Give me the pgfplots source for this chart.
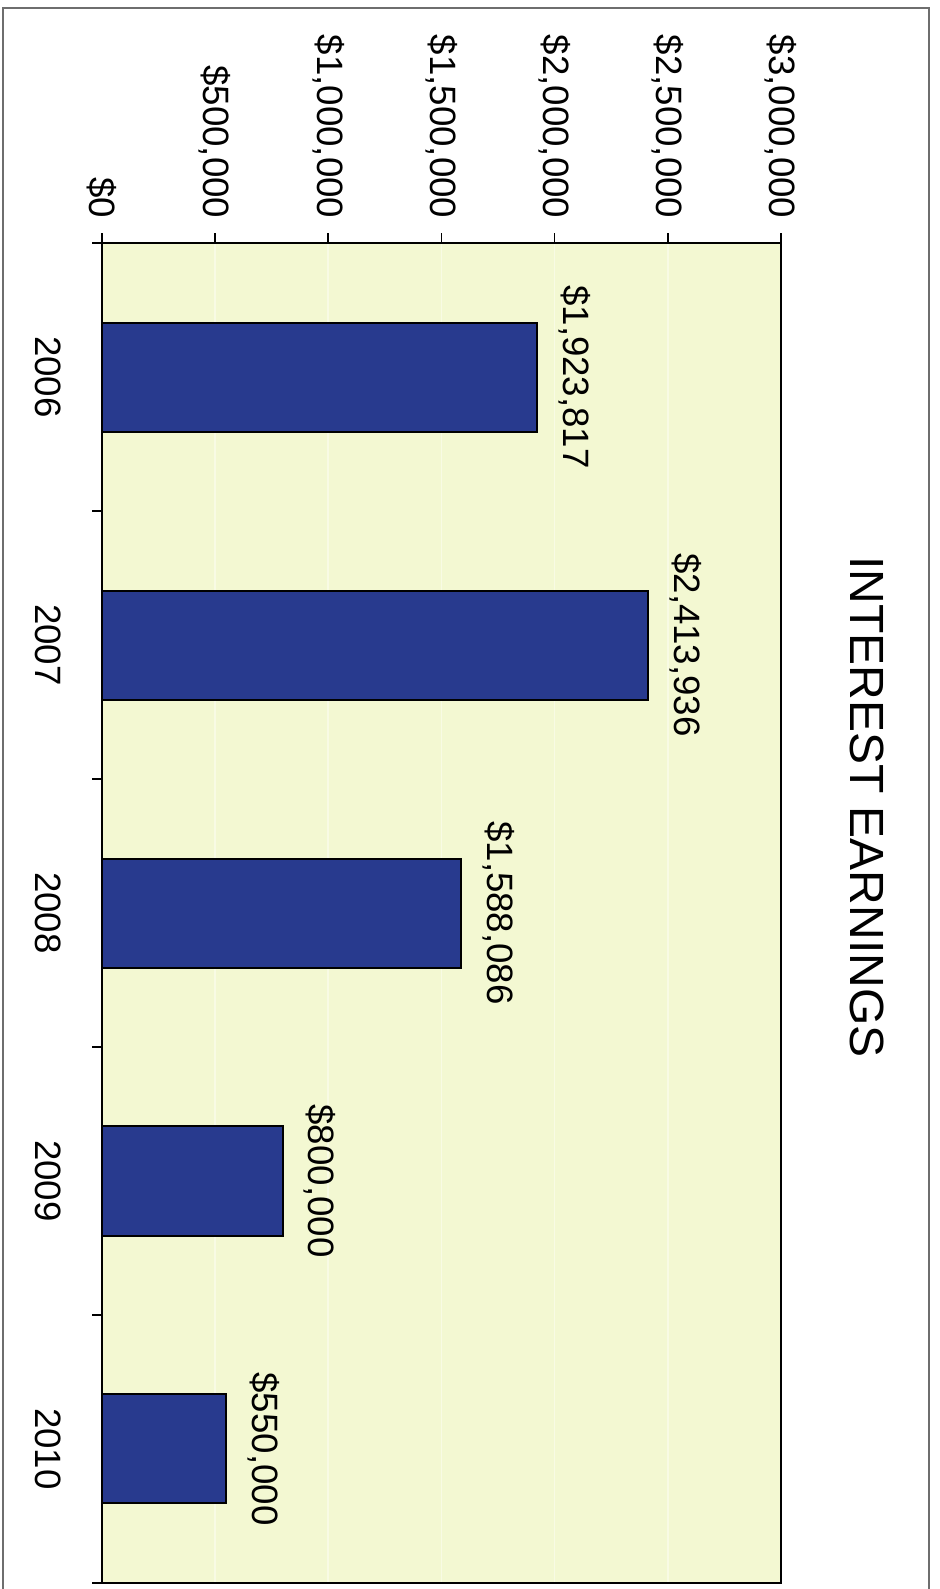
\documentclass[border=0pt]{standalone}
\usepackage{fontspec}
\setmainfont{Liberation Sans}
\usepackage{pgfplots}
\usepackage{pgfplotstable}
\pgfplotsset{compat=1.18}
\definecolor{bgyel}{RGB}{243,248,210}
\definecolor{barblue}{RGB}{40,58,142}
\definecolor{framegray}{RGB}{110,110,110}
\pgfplotstableread{
y val lab
4 1923817 1,923,817
3 2413936 2,413,936
2 1588086 1,588,086
1 800000 800,000
0 550000 550,000
}\data
\begin{document}
\begin{tikzpicture}
\useasboundingbox (0,0) rectangle (281.7pt,-476.7pt);
\draw[framegray, line width=0.5pt] (0.9pt,-476.7pt) -- (0.9pt,-2.4pt) -- (278.7pt,-2.4pt) -- (278.7pt,-476.7pt);
\begin{axis}[
  at={(30.6pt,-72.9pt)}, anchor=north west,
  scale only axis, width=203.7pt, height=402pt,
  xmin=0, xmax=3000000, ymin=-0.5, ymax=4.5,
  scaled x ticks=false,
  axis background/.style={fill=bgyel},
  axis line style={black, line width=0.5pt},
  tick align=outside,
  major tick length=3pt,
  tick style={black, line width=0.5pt},
  xtick={0,500000,1000000,1500000,2000000,2500000,3000000},
  xticklabels={{\$0},{\$500,000},{\$1,000,000},{\$1,500,000},{\$2,000,000},{\$2,500,000},{\$3,000,000}},
  xtick pos=right, xticklabel pos=right,
  xticklabel style={rotate=-90, anchor=east, inner xsep=4.2pt, inner ysep=0pt, font=\fontsize{11}{13}\selectfont},
  ytick={-0.5,0.5,1.5,2.5,3.5,4.5},
  yticklabels={2010,2009,2008,2007,2006},
  y tick label as interval,
  ytick pos=left,
  yticklabel style={rotate=-90, anchor=north, inner ysep=9pt, inner xsep=0pt, font=\fontsize{11}{13}\selectfont},
  xmajorgrids,
  major grid style={white!40!bgyel, line width=0.5pt},
  point meta=explicit symbolic,
  nodes near coords={\$\pgfplotspointmeta},
  every node near coord/.append style={rotate=-90, anchor=south, inner ysep=6pt, inner xsep=0pt, font=\fontsize{11}{13}\selectfont, text=black},
]
\addplot[xbar, bar width=32.7pt, fill=barblue, draw=black, line width=0.6pt] table[x=val, y=y, meta=lab] {\data};
\end{axis}
\node[rotate=-90, font=\fontsize{14.4}{17}\selectfont, inner sep=0pt] at (260.1pt,-242.1pt) {INTEREST EARNINGS};
\end{tikzpicture}
\end{document}
